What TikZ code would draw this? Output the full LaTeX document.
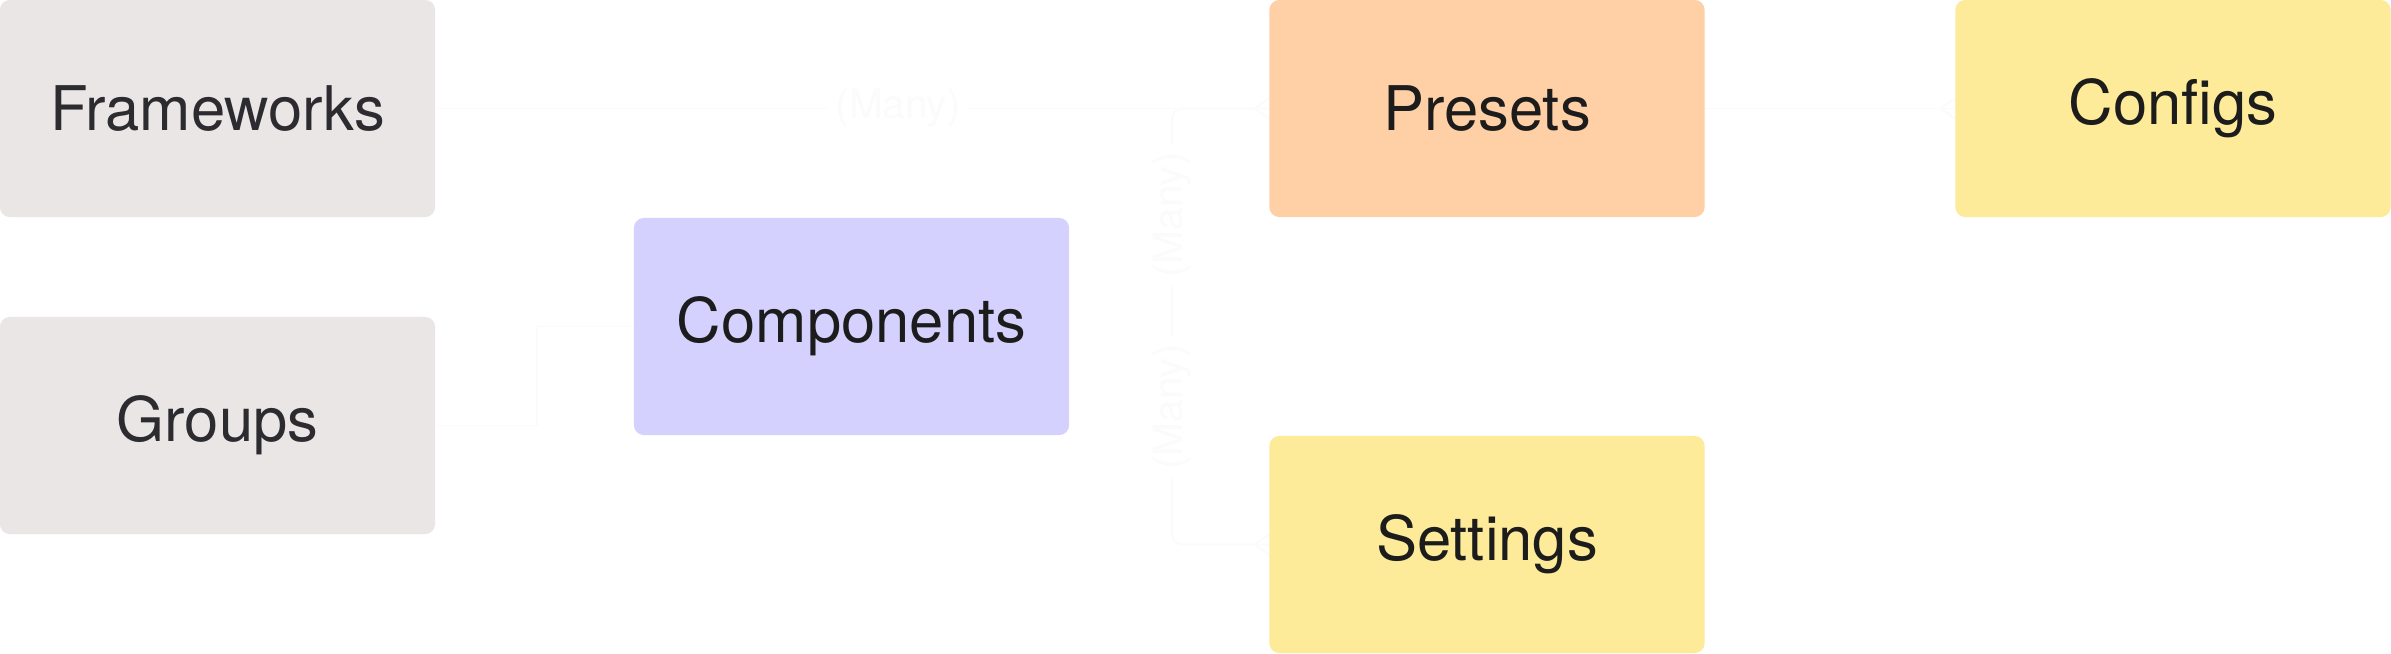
\documentclass[tikz,border=0pt]{standalone}
\usepackage{fontspec}
\setmainfont{TeX Gyre Heros}
\definecolor{cgray}{HTML}{EBE6E6}
\definecolor{cviolet}{HTML}{D5D1FE}
\definecolor{corange}{HTML}{FFD0A6}
\definecolor{cyellow}{HTML}{FDEB99}
\definecolor{tdark}{HTML}{2B2B30}
\definecolor{tblack}{HTML}{1C1C1C}
\definecolor{faint}{HTML}{FBFBFB}
\begin{document}
\begin{tikzpicture}[x=0.01cm,y=-0.01cm,
  box/.style={rectangle, rounded corners=0.1cm, minimum width=4.35cm, minimum height=2.17cm, inner sep=0pt, font=\fontsize{17.5}{20}\selectfont, text=tblack},
  conn/.style={draw=faint, line width=0.5pt},
  lbl/.style={fill=white, text=faint, inner sep=2pt, font=\fontsize{11.5}{13}\selectfont}]
\useasboundingbox[fill=white] (0,0) rectangle (2391,653);
\node[box, fill=cgray, text=tdark] (fw) at (217.5,108.5) {Frameworks};
\node[box, fill=cgray, text=tdark] (gr) at (217.5,425.5) {Groups};
\node[box, fill=cviolet] (comp) at (851.5,326.5) {Components};
\node[box, fill=corange] (pre) at (1487,108.5) {Presets};
\node[box, fill=cyellow] (cfg) at (2173,108.5) {Configs};
\node[box, fill=cyellow] (set) at (1487,544.5) {Settings};
\coordinate (g1) at (537,425.5);
\draw[conn] (fw.east) -- node[lbl, pos=0.555] (l1) {(Many)} (pre.west);
\draw[conn] (pre.east) -- (cfg.west);
\draw[conn] (gr.east) -- (g1) |- (comp.west);
\coordinate (p1) at (1172,108.5);
\draw[conn, rounded corners=0.1cm] (pre.west) -- (p1) |- (set.west);
\node[lbl, rotate=90] (l2) at (1172,215) {(Many)};
\node[lbl, rotate=90] (l3) at (1172,407) {(Many)};
\foreach \n in {pre, set, cfg}{
  \draw[conn] (\n.west) ++(-14,0) -- ++(14,-10);
  \draw[conn] (\n.west) ++(-14,0) -- ++(14,10);
}
\end{tikzpicture}
\end{document}
